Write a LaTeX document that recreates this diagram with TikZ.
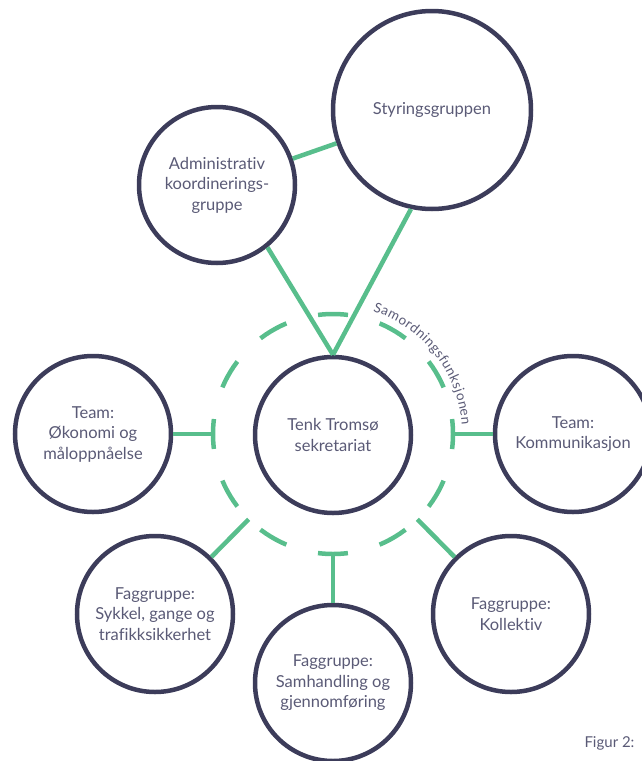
\documentclass[tikz,border=0pt]{standalone}
\usepackage{fontspec}
\setmainfont{Lato}[Ligatures={NoCommon}]
\usetikzlibrary{decorations.text,calc}

\definecolor{navy}{RGB}{60,60,90}
\definecolor{gronn}{RGB}{88,190,140}
\definecolor{tekst}{RGB}{90,90,118}

\tikzset{
  gruppe/.style={circle, draw=navy, line width=4.5pt, minimum size=156pt,
    inner sep=0pt, align=center, text=tekst, font=\fontsize{16.5}{20.5}\selectfont},
  kobling/.style={draw=gronn, line width=4.5pt},
}

\begin{document}
\begin{tikzpicture}[x=1pt, y=-1pt]
  \useasboundingbox (0,0) rectangle (641,761);

  % groups
  \node[gruppe] (sek) at (333,435) {Tenk Tromsø\\sekretariat};
  \node[gruppe, minimum size=198pt] (styr) at (432,110) {Styringsgruppen};
  \node[gruppe] (admin) at (217,185) {Administrativ\\koordinerings-\\gruppe};
  \node[gruppe] (okonomi) at (93,434) {Team:\\Økonomi og\\måloppnåelse};
  \node[gruppe] (kommunikasjon) at (573,434) {Team:\\Kommunikasjon};
  \node[gruppe] (sykkel) at (155,614) {Faggruppe:\\Sykkel, gange og\\trafikksikkerhet};
  \node[gruppe] (samhandling) at (333,683) {Faggruppe:\\Samhandling og\\gjennomføring};
  \node[gruppe] (kollektiv) at (511,614) {Faggruppe:\\Kollektiv};

  % samordning ring
  \node[circle, draw=gronn, line width=4.5pt, minimum size=240pt, inner sep=0pt,
    outer sep=0pt, dash pattern=on 30pt off 32.83pt, dash phase=15pt] (samord) at (333,434) {};
  \path[decorate, decoration={text along path, text align=fit to path, text color=tekst,
    text={|\fontsize{13.5}{15}\selectfont|Samordningsfunksjonen}}]
    ($(samord.center)+(72:129pt)$) arc[start angle=72, end angle=4, radius=129pt];

  % connectors
  \draw[kobling] (admin) -- (styr);
  \draw[kobling] (admin.-51) -- (sek.north);
  \draw[kobling] (styr.-102) -- (sek.north);
  \draw[kobling] (okonomi) -- (samord);
  \draw[kobling] (kommunikasjon) -- (samord);
  \draw[kobling] (sykkel) -- (samord);
  \draw[kobling] (samhandling) -- (samord);
  \draw[kobling] (kollektiv) -- (samord);

  \node[text=tekst, font=\fontsize{15}{17}\selectfont, anchor=east] (figur) at (638,743) {Figur 2:};
\end{tikzpicture}
\end{document}
